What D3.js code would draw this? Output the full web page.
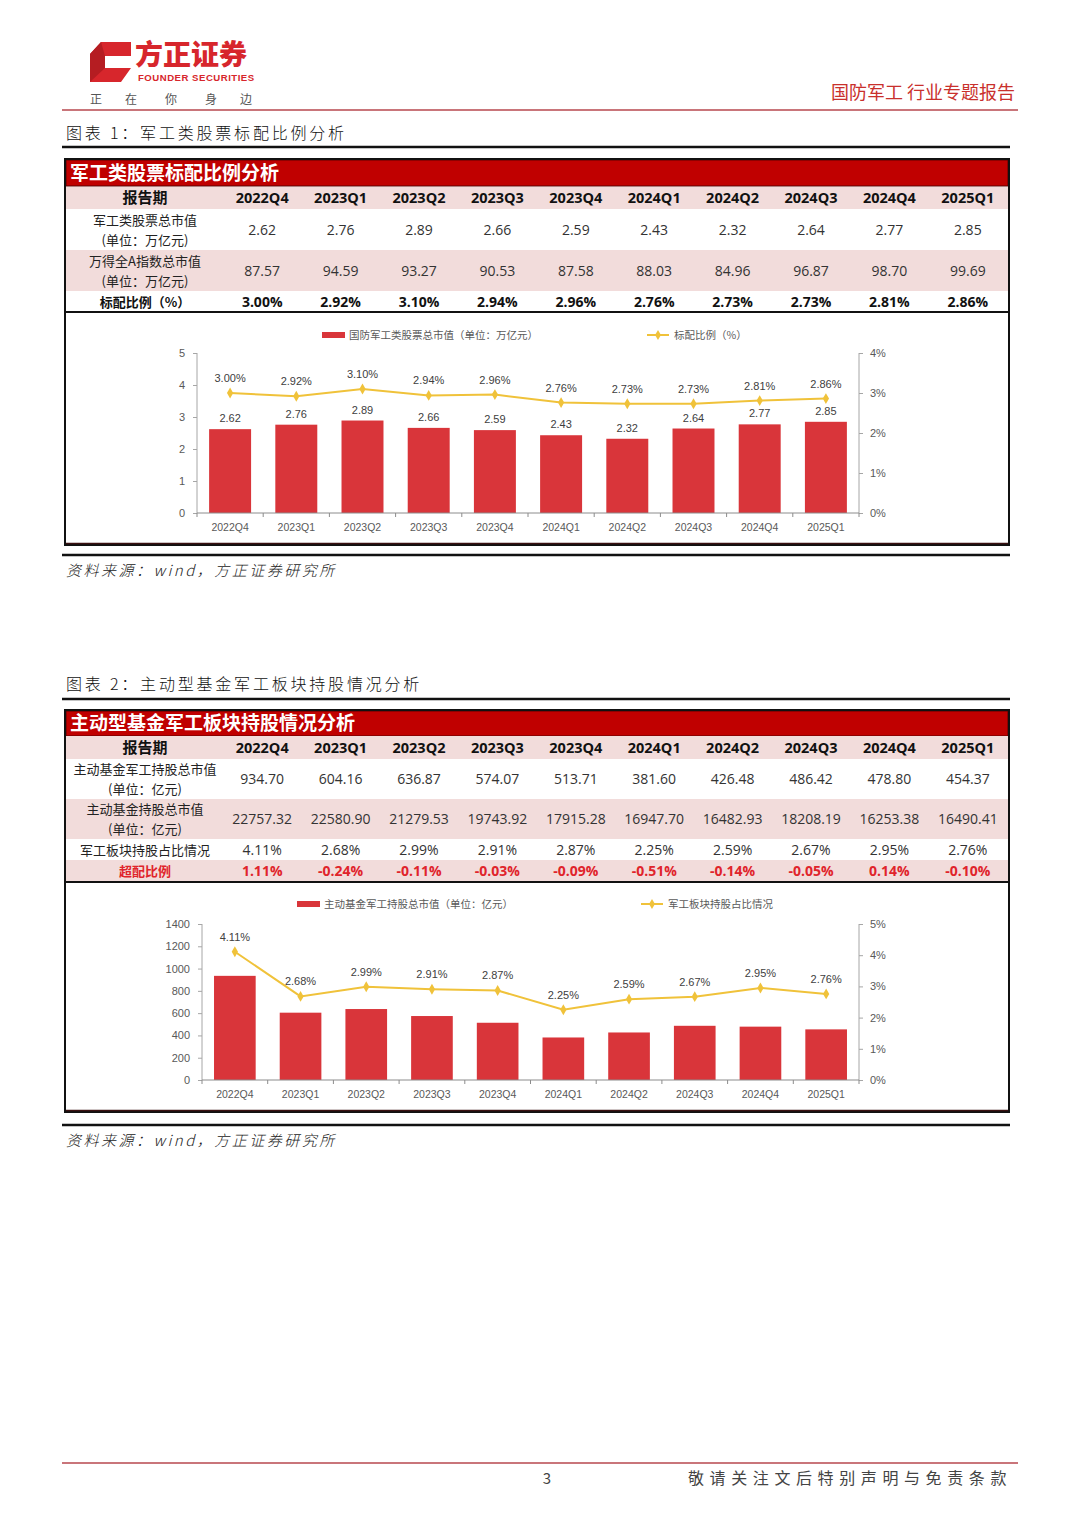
<!DOCTYPE html>
<html><head><meta charset="utf-8">
<script src="https://cdn.jsdelivr.net/npm/d3@7"></script>
<style>
html,body{margin:0;padding:0;background:#fff;}
svg{display:block;}
</style></head>
<body>
<svg id="page" width="1080" height="1527"></svg>
<script>
// ---------- DATA ----------
const periods = ["2022Q4","2023Q1","2023Q2","2023Q3","2023Q4","2024Q1","2024Q2","2024Q3","2024Q4","2025Q1"];
// Figure 1
const milCap = [2.62,2.76,2.89,2.66,2.59,2.43,2.32,2.64,2.77,2.85];          // 万亿元
const windACap = [87.57,94.59,93.27,90.53,87.58,88.03,84.96,96.87,98.70,99.69]; // 万亿元
const stdRatio = [3.00,2.92,3.10,2.94,2.96,2.76,2.73,2.73,2.81,2.86];           // %
const ticks1Left = [0,1,2,3,4,5];
const ticks1Right = [0,1,2,3,4];
// Figure 2
const fundMil = [934.70,604.16,636.87,574.07,513.71,381.60,426.48,486.42,478.80,454.37];   // 亿元
const fundAll = [22757.32,22580.90,21279.53,19743.92,17915.28,16947.70,16482.93,18208.19,16253.38,16490.41];
const fundShare = [4.11,2.68,2.99,2.91,2.87,2.25,2.59,2.67,2.95,2.76];  // %
const overWeight = [1.11,-0.24,-0.11,-0.03,-0.09,-0.51,-0.14,-0.05,0.14,-0.10]; // %
const ticks2Left = [0,200,400,600,800,1000,1200,1400];
const ticks2Right = [0,1,2,3,4,5];

// ---------- STYLE ----------
const RED = "#c00000", BAR = "#d9353a", GOLD = "#f0c23a", PINK = "#f2dcdb";
const CJK = "'Noto Sans CJK SC','Noto Sans',sans-serif";
const NUM = "'Open Sans','Noto Sans CJK SC',sans-serif";
const ARIAL = "'Liberation Sans',Arial,sans-serif";

const svg = d3.select("#page");

// ---------- HEADER ----------
svg.append("path").attr("d","M90,54 L101,42 L131,42 L131,56 L105,56 L105,68 L131,68 L121,82 L90,82 Z").attr("fill","#d7262c");
svg.append("path").attr("d","M101,42 L105,56 L105,68 L90,82 L90,54 Z").attr("fill","#b51d22");
svg.append("text").attr("x",135).attr("y",65).attr("font-family",CJK).attr("font-weight",900)
  .attr("font-size",28).attr("fill","#d7262c").text("方正证券");
svg.append("text").attr("x",138).attr("y",81).attr("font-family",ARIAL).attr("font-weight",700)
  .attr("font-size",9.6).attr("letter-spacing",0.5).attr("fill","#d7262c").text("FOUNDER SECURITIES");
["正","在","你","身","边"].forEach((c,i)=>{
  svg.append("text").attr("x",[96,131,171,211,246][i]).attr("y",104).attr("text-anchor","middle")
    .attr("font-family",CJK).attr("font-size",12).attr("fill","#555").text(c);
});
svg.append("text").attr("x",1015).attr("y",99).attr("text-anchor","end").attr("font-family",CJK)
  .attr("font-size",18).attr("fill","#c9302c").text("国防军工 行业专题报告");
svg.append("line").attr("x1",62).attr("x2",1018).attr("y1",110).attr("y2",110).attr("stroke","#c9757a").attr("stroke-width",2);

// ---------- FOOTER ----------
svg.append("line").attr("x1",62).attr("x2",1018).attr("y1",1463).attr("y2",1463).attr("stroke","#c9757a").attr("stroke-width",2);
svg.append("text").attr("x",547).attr("y",1484).attr("text-anchor","middle").attr("font-family",CJK)
  .attr("font-size",15).attr("fill","#444").text("3");
svg.append("text").attr("x",1012).attr("y",1484).attr("text-anchor","end").attr("font-family",CJK)
  .attr("font-size",16).attr("letter-spacing",5.6).attr("fill","#444").text("敬请关注文后特别声明与免责条款");

// ---------- helpers ----------
function figTitle(y, txt, lineY){
  svg.append("text").attr("x",66).attr("y",y).attr("font-family",CJK).attr("font-weight",300)
    .attr("font-size",16).attr("letter-spacing",2.8).attr("fill","#111").text(txt);
  svg.append("line").attr("x1",62).attr("x2",1010).attr("y1",lineY).attr("y2",lineY).attr("stroke","#111").attr("stroke-width",2.5);
}
function source(y, lineY){
  svg.append("line").attr("x1",62).attr("x2",1010).attr("y1",lineY).attr("y2",lineY).attr("stroke","#111").attr("stroke-width",2.5);
  svg.append("text").attr("x",66).attr("y",y).attr("font-family",CJK).attr("font-style","italic").attr("font-weight",300)
    .attr("font-size",15).attr("letter-spacing",2.5).attr("fill","#222").text("资料来源：wind，方正证券研究所");
}
const colX = d3.scaleBand().domain(periods).range([223,1007]);
function table(cfg){
  const g = svg.append("g");
  // title bar
  g.append("rect").attr("x",66).attr("y",cfg.barY).attr("width",942).attr("height",cfg.barH)
    .attr("fill",RED).attr("stroke","#5a0000").attr("stroke-width",1);
  g.append("text").attr("x",70).attr("y",cfg.barY+cfg.barH-6).attr("font-family",CJK).attr("font-weight",700)
    .attr("font-size",19).attr("fill","#fff").text(cfg.title);
  cfg.rows.forEach(r=>{
    if(r.fill) g.append("rect").attr("x",66).attr("y",r.y).attr("width",942).attr("height",r.h).attr("fill",r.fill);
    const lh = 20;
    const y0 = r.y + r.h/2 - (r.label.length-1)*lh/2 + 5;
    r.label.forEach((l,i)=>{
      g.append("text").attr("x",r.labelX||145).attr("y",y0+i*lh).attr("text-anchor","middle")
        .attr("font-family",CJK).attr("font-size",r.labelSize||13).attr("font-weight",r.labelBold?700:400)
        .attr("fill",r.color||"#222").text(l);
    });
    periods.forEach((p,i)=>{
      g.append("text").attr("x",colX(p)+colX.bandwidth()/2).attr("y",r.y+r.h/2+5).attr("text-anchor","middle")
        .attr("font-family",NUM).attr("font-size",r.size||14).attr("font-weight",r.bold?700:400)
        .attr("fill",r.color||"#333").text(r.values[i]);
    });
  });
  g.append("line").attr("x1",66).attr("x2",1008).attr("y1",cfg.sepY).attr("y2",cfg.sepY).attr("stroke","#111").attr("stroke-width",2);
  // outer box
  g.append("rect").attr("x",65).attr("y",cfg.barY-1).attr("width",944).attr("height",cfg.boxBottom-cfg.barY+1)
    .attr("fill","none").attr("stroke","#111").attr("stroke-width",2);
  g.append("line").attr("x1",66).attr("x2",1008).attr("y1",cfg.boxBottom-1.5).attr("y2",cfg.boxBottom-1.5).attr("stroke","#3a1010").attr("stroke-width",1.5);
}
const f2 = v=>v.toFixed(2);
const fp = v=>v.toFixed(2)+"%";

function chart(cfg){
  const g = svg.append("g");
  const x = d3.scaleBand().domain(periods).range([cfg.x0,cfg.x1]).paddingInner(0.366).paddingOuter(0.183);
  const yL = d3.scaleLinear().domain([0,d3.max(cfg.ticksL)]).range([cfg.yB,cfg.yT]);
  const yR = d3.scaleLinear().domain([0,d3.max(cfg.ticksR)]).range([cfg.yB,cfg.yT]);
  // axes
  const axL = g.append("g").attr("transform",`translate(${cfg.x0},0)`)
    .call(d3.axisLeft(yL).tickValues(cfg.ticksL).tickSize(4).tickPadding(8).tickFormat(d=>d));
  const axR = g.append("g").attr("transform",`translate(${cfg.x1},0)`)
    .call(d3.axisRight(yR).tickValues(cfg.ticksR).tickSize(4).tickPadding(7).tickFormat(d=>d+"%"));
  [axL,axR].forEach(a=>{
    a.select(".domain").attr("stroke","#a6a6a6").attr("d", `M0,${cfg.yT}V${cfg.yB}`);
    a.selectAll(".tick line").attr("stroke","#a6a6a6");
    a.selectAll(".tick text").attr("font-family",ARIAL).attr("font-size",11).attr("fill","#595959");
  });
  // bars
  g.selectAll(".bar").data(cfg.bars).join("rect").attr("class","bar")
    .attr("x",(d,i)=>x(periods[i])).attr("width",x.bandwidth())
    .attr("y",d=>yL(d)).attr("height",d=>cfg.yB-yL(d)).attr("fill",BAR);
  // x axis
  const axX = g.append("g").attr("transform",`translate(0,${cfg.yB})`)
    .call(d3.axisBottom(x).tickSize(0).tickPadding(11));
  axX.select(".domain").attr("stroke","#8c8c8c").attr("d",`M${cfg.x0},0H${cfg.x1}`);
  axX.selectAll(".tick text").attr("font-family",ARIAL).attr("font-size",10.5).attr("fill","#595959");
  const bounds = periods.map(p=>x(p)-x.step()*x.paddingInner()/2).concat([cfg.x1]);
  g.selectAll(".xt").data(bounds).join("line").attr("x1",d=>d).attr("x2",d=>d)
    .attr("y1",cfg.yB).attr("y2",cfg.yB+4).attr("stroke","#8c8c8c");
  if(cfg.barLabels){
    g.selectAll(".bl").data(cfg.bars).join("text")
      .attr("x",(d,i)=>x(periods[i])+x.bandwidth()/2).attr("y",d=>yL(d)-7).attr("text-anchor","middle")
      .attr("font-family",ARIAL).attr("font-size",11).attr("fill","#404040").text(f2);
  }
  // line
  const cx = (d,i)=>x(periods[i])+x.bandwidth()/2;
  g.append("path").datum(cfg.line).attr("fill","none").attr("stroke",GOLD).attr("stroke-width",2)
    .attr("d",d3.line().x(cx).y(d=>yR(d)));
  g.selectAll(".pt").data(cfg.line).join("path").attr("class","pt")
    .attr("transform",(d,i)=>`translate(${cx(d,i)},${yR(d)})`)
    .attr("d",d3.symbol(d3.symbolDiamond,34)).attr("fill",GOLD);
  g.selectAll(".ll").data(cfg.line).join("text")
    .attr("x",cx).attr("y",d=>yR(d)-cfg.lineLabOff).attr("text-anchor","middle")
    .attr("font-family",ARIAL).attr("font-size",11).attr("fill","#404040").text(fp);
  // legend
  g.append("rect").attr("x",cfg.legBarX).attr("y",cfg.legY-3).attr("width",23).attr("height",6).attr("fill",BAR);
  g.append("text").attr("x",cfg.legBarX+27).attr("y",cfg.legY+4).attr("font-family",CJK)
    .attr("font-size",10.5).attr("fill","#595959").text(cfg.legBar);
  g.append("line").attr("x1",cfg.legLineX).attr("x2",cfg.legLineX+22).attr("y1",cfg.legY).attr("y2",cfg.legY)
    .attr("stroke",GOLD).attr("stroke-width",2);
  g.append("path").attr("transform",`translate(${cfg.legLineX+11},${cfg.legY})`)
    .attr("d",d3.symbol(d3.symbolDiamond,30)).attr("fill",GOLD);
  g.append("text").attr("x",cfg.legLineX+27).attr("y",cfg.legY+4).attr("font-family",CJK)
    .attr("font-size",10.5).attr("fill","#595959").text(cfg.legLine);
}

// ---------- FIGURE 1 ----------
figTitle(139,"图表 1：军工类股票标配比例分析",147);
table({
  title:"军工类股票标配比例分析", barY:160, barH:26, sepY:312, boxBottom:545,
  rows:[
    {y:187,h:22,fill:PINK,label:["报告期"],labelSize:15,labelBold:true,values:periods,bold:true,size:14.5,color:"#111"},
    {y:209,h:41,fill:null,label:["军工类股票总市值","(单位：万亿元)"],values:milCap.map(f2)},
    {y:250,h:41,fill:PINK,label:["万得全A指数总市值","(单位：万亿元)"],values:windACap.map(f2)},
    {y:291,h:21,fill:null,label:["标配比例（%）"],labelBold:true,values:stdRatio.map(fp),bold:true,color:"#111"}
  ]
});
chart({x0:197,x1:859,yT:353,yB:513,ticksL:ticks1Left,ticksR:ticks1Right,bars:milCap,line:stdRatio,
  barLabels:true,lineLabOff:11,legY:335,legBarX:322,legLineX:647,
  legBar:"国防军工类股票总市值（单位：万亿元）",legLine:"标配比例（%）"});
source(576,555);

// ---------- FIGURE 2 ----------
figTitle(690,"图表 2：主动型基金军工板块持股情况分析",699);
table({
  title:"主动型基金军工板块持股情况分析", barY:711, barH:25, sepY:882, boxBottom:1112,
  rows:[
    {y:736,h:23,fill:PINK,label:["报告期"],labelSize:15,labelBold:true,values:periods,bold:true,size:14.5,color:"#111"},
    {y:759,h:40,fill:null,label:["主动基金军工持股总市值","(单位：亿元)"],values:fundMil.map(f2)},
    {y:799,h:40,fill:PINK,label:["主动基金持股总市值","(单位：亿元)"],values:fundAll.map(f2)},
    {y:839,h:21,fill:null,label:["军工板块持股占比情况"],values:fundShare.map(fp)},
    {y:860,h:21,fill:PINK,label:["超配比例"],labelBold:true,values:overWeight.map(fp),bold:true,color:"#e0242b"}
  ]
});
chart({x0:202,x1:859,yT:924,yB:1080,ticksL:ticks2Left,ticksR:ticks2Right,bars:fundMil,line:fundShare,
  barLabels:false,lineLabOff:11,legY:904,legBarX:297,legLineX:641,
  legBar:"主动基金军工持股总市值（单位：亿元）",legLine:"军工板块持股占比情况"});
source(1146,1125);
</script>
</body></html>
